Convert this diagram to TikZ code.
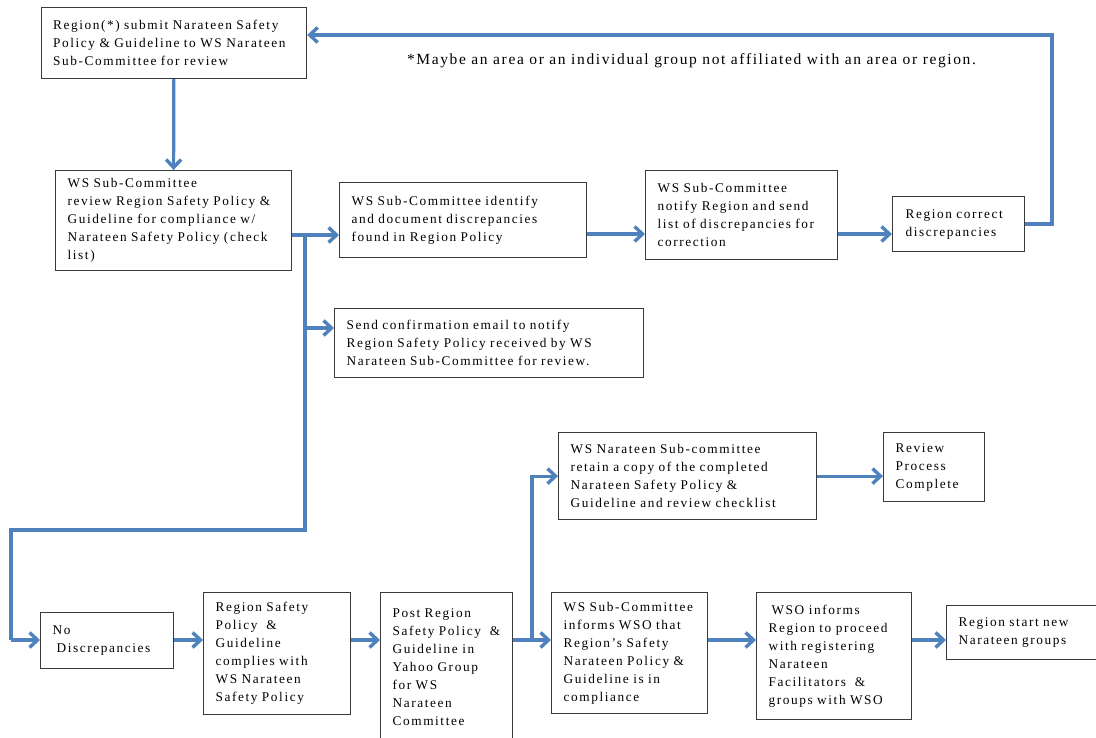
\documentclass[tikz,border=0pt]{standalone}
\usepackage{fontspec}
\setmainfont{Liberation Serif}
\newfontfamily\boxfont[LetterSpace=12]{Liberation Serif}
\newfontfamily\notefont[LetterSpace=10.5]{Liberation Serif}
\usetikzlibrary{arrows.meta}
\definecolor{arrblue}{HTML}{4F81BD}
\definecolor{boxline}{HTML}{3A3A3A}
\tikzset{
  boxnode/.style={draw=boxline, line width=1.2pt, anchor=north west, align=left,
    inner xsep=12pt, inner ysep=2pt,
    font=\boxfont\fontsize{13.3}{18}\selectfont},
  flow/.style={draw=arrblue, line width=3.2pt},
  arr/.style={flow, -{Straight Barb[length=8pt,width=15pt,line width=3.4pt]}},
  notetext/.style={font=\notefont\fontsize{15.5}{18}\selectfont, inner sep=0pt}
}
\begin{document}
\begin{tikzpicture}[x=1pt,y=-1pt]
\useasboundingbox (0,0) rectangle (1096,738);

\node[boxnode, text width=241.5pt, minimum height=71pt] (A) at (40.5,7)
  {Region(*) submit Narateen Safety\\Policy \& Guideline to WS Narateen\\Sub-Committee for review};
\node[boxnode, text width=212pt, minimum height=100pt] (B) at (55,170)
  {WS Sub-Committee\\review Region Safety Policy \&\\Guideline for compliance w/\\Narateen Safety Policy (check\\list)};
\node[boxnode, text width=223pt, minimum height=75pt] (C) at (339,182)
  {WS Sub-Committee identify\\and document discrepancies\\found in Region Policy};
\node[boxnode, text width=168pt, minimum height=89pt] (D) at (645,170)
  {WS Sub-Committee\\notify Region and send\\list of discrepancies for\\correction};
\node[boxnode, text width=108pt, minimum height=55pt] (E) at (892,196)
  {\hspace*{1pt}Region correct\\\hspace*{1pt}discrepancies};
\node[boxnode, text width=285pt, minimum height=69pt] (F) at (334,308)
  {Send confirmation email to notify\\Region Safety Policy received by WS\\Narateen Sub-Committee for review.};
\node[boxnode, text width=109pt, minimum height=56pt] (G) at (40,612)
  {No\\\hspace*{4pt}Discrepancies};
\node[boxnode, text width=123pt, minimum height=122pt] (H) at (203,592)
  {Region Safety\\Policy \ \&\\Guideline\\complies with\\WS Narateen\\Safety Policy};
\node[boxnode, text width=108pt, minimum height=150pt] (I) at (380,592)
  {Post Region\\Safety Policy \ \&\\Guideline in\\Yahoo Group\\for WS\\Narateen\\Committee};
\node[boxnode, text width=132pt, minimum height=121pt] (J) at (551,592)
  {WS Sub-Committee\\informs WSO that\\Region’s Safety\\Narateen Policy \&\\Guideline is in\\compliance};
\node[boxnode, text width=131pt, minimum height=127pt] (K) at (756,592)
  {\hspace*{3pt}WSO informs\\Region to proceed\\with registering\\Narateen\\Facilitators \ \&\\groups with WSO};
\node[boxnode, text width=136pt, minimum height=54pt] (L) at (946,605)
  {Region start new\\Narateen groups};
\node[boxnode, text width=234pt, minimum height=87pt] (M) at (558,432)
  {WS Narateen Sub-committee\\retain a copy of the completed\\Narateen Safety Policy \&\\Guideline and review checklist};
\node[boxnode, text width=77pt, minimum height=69pt] (N) at (883,432)
  {Review\\Process\\Complete};

\node[notetext] (note) at (691.5,61)
  {*Maybe an area or an individual group not affiliated with an area or region.};

% helper coordinates
\coordinate (yb) at (0,235);
\coordinate (yc) at (0,234);
\coordinate (loop) at (1052,35);
\coordinate (br1) at (305,235);
\coordinate (br2) at (305,328);
\coordinate (k1) at (305,530);
\coordinate (k2) at (11,530);
\coordinate (row) at (0,640);
\coordinate (br3) at (532,640);

% connectors
\draw[arr] (A.south) -- (B.north);
\draw[arr] (B.east |- yb) -- (C.west |- yb);
\draw[arr] (C.east |- yc) -- (D.west |- yc);
\draw[arr] (D.east |- yc) -- (E.west |- yc);
\draw[arr] (E.east) -| (loop) -- (A.east |- loop);
\draw[flow] (br1) -- (k1) -- (k2) -- (k2 |- row);
\draw[arr] (k2 |- row) -- (G.west |- row);
\draw[arr] (br2) -- (F.west |- br2);
\draw[arr] (G.east |- row) -- (H.west |- row);
\draw[arr] (H.east |- row) -- (I.west |- row);
\draw[arr] (I.east |- row) -- (J.west |- row);
\draw[arr] (br3) |- (M.west);
\draw[arr] (M.east) -- (N.west |- M.east);
\draw[arr] (J.east |- row) -- (K.west |- row);
\draw[arr] (K.east |- row) -- (L.west |- row);
\end{tikzpicture}
\end{document}
